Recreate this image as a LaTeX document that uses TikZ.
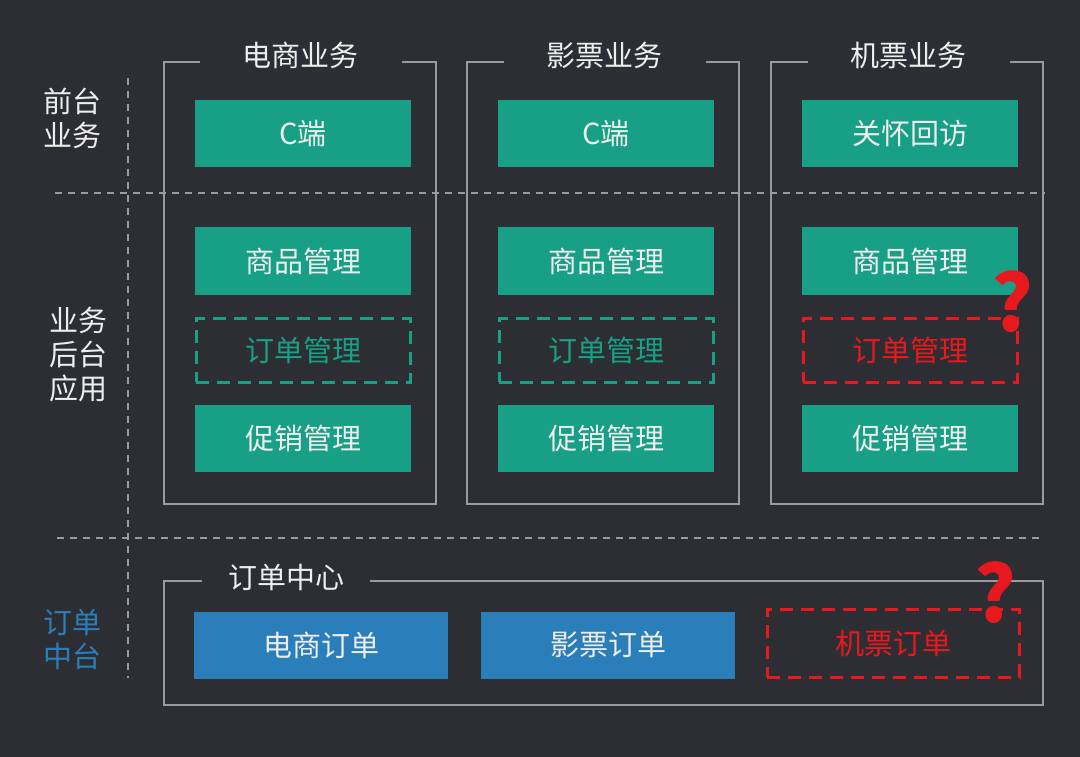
\documentclass[tikz,border=0pt]{standalone}
\usepackage{fontspec}
\usepackage{xcolor}
\setmainfont{Noto Sans CJK SC}
\definecolor{bgdark}{HTML}{2D2E33}
\definecolor{tealbox}{HTML}{17A085}
\definecolor{bluebox}{HTML}{2A7FBA}
\definecolor{qred}{HTML}{E8191E}
\definecolor{framegray}{HTML}{9A9B9E}
\definecolor{txtgray}{HTML}{EDEDED}

\tikzset{
  frame/.style={draw=framegray, line width=1.5pt},
  sepline/.style={draw=framegray, line width=1.5pt, dash pattern=on 7pt off 6pt},
  appbox/.style={fill=tealbox, text=txtgray, minimum width=216pt, minimum height=67pt,
    inner sep=0pt, font=\fontsize{29}{33}\selectfont},
  gapbox/.style={draw=tealbox, line width=3pt, dash pattern=on 13pt off 8pt, text=tealbox,
    minimum width=214pt, minimum height=64pt, inner sep=0pt, font=\fontsize{29}{33}\selectfont},
  redbox/.style={gapbox, draw=qred, text=qred},
  orderbox/.style={fill=bluebox, text=txtgray, minimum width=254pt, minimum height=67pt,
    inner sep=0pt, font=\fontsize{29}{33}\selectfont},
  heading/.style={text=txtgray, font=\fontsize{29}{33}\selectfont, inner sep=0pt},
  sidelabel/.style={text=txtgray, align=center, font=\fontsize{29}{34}\selectfont, inner sep=0pt},
  qmark/.style={text=qred, font=\fontsize{78}{78}\selectfont\bfseries, inner sep=0pt}
}

\begin{document}
\begin{tikzpicture}[x=1pt, y=-1pt]
  % background
  \fill[bgdark] (0,0) rectangle (1080,757);

  % dashed separators
  \draw[sepline] (128,78) -- (128,678);
  \draw[sepline] (55,193) -- (1045,193);
  \draw[sepline] (57,538) -- (1045,538);

  % row labels
  \node[sidelabel] (front) at (72,118) {前台\\业务};
  \node[sidelabel] (back) at (78,355) {业务\\后台\\应用};
  \node[sidelabel, text=bluebox] (mid) at (72,640) {订单\\中台};

  % business columns
  \node[heading] (shop) at (300,55) {电商业务};
  \draw[frame] (200,62) -- (164,62) -- (164,504) -- (436,504) -- (436,62) -- (402,62);
  \node[heading] (film) at (604,55) {影票业务};
  \draw[frame] (504,62) -- (467,62) -- (467,504) -- (739,504) -- (739,62) -- (706,62);
  \node[heading] (air) at (908,55) {机票业务};
  \draw[frame] (808,62) -- (771,62) -- (771,504) -- (1043,504) -- (1043,62) -- (1010,62);

  % front-end boxes
  \node[appbox] (shopc) at (303,134) {C端};
  \node[appbox] (filmc) at (606,134) {C端};
  \node[appbox] (airc) at (910,134) {关怀回访};

  % back-end apps
  \node[appbox] (shopgoods) at (303,261) {商品管理};
  \node[gapbox] (shoporder) at (303,350) {订单管理};
  \node[appbox] (shoppromo) at (303,438) {促销管理};

  \node[appbox] (filmgoods) at (606,261) {商品管理};
  \node[gapbox] (filmorder) at (606,350) {订单管理};
  \node[appbox] (filmpromo) at (606,438) {促销管理};

  \node[appbox] (airgoods) at (910,261) {商品管理};
  \node[redbox] (airorder) at (910,350) {订单管理};
  \node[appbox] (airpromo) at (910,438) {促销管理};
  \node[qmark] (q1) at (1012,302) {?};

  % order center
  \node[heading] (center) at (286,577) {订单中心};
  \draw[frame] (202,581) -- (164,581) -- (164,705) -- (1043,705) -- (1043,581) -- (370,581);
  \node[orderbox] (shoporders) at (321,645) {电商订单};
  \node[orderbox] (filmorders) at (608,645) {影票订单};
  \node[redbox, minimum width=252pt, minimum height=68pt] (airorders) at (893,643) {机票订单};
  \node[qmark] (q2) at (995,593) {?};
\end{tikzpicture}
\end{document}
